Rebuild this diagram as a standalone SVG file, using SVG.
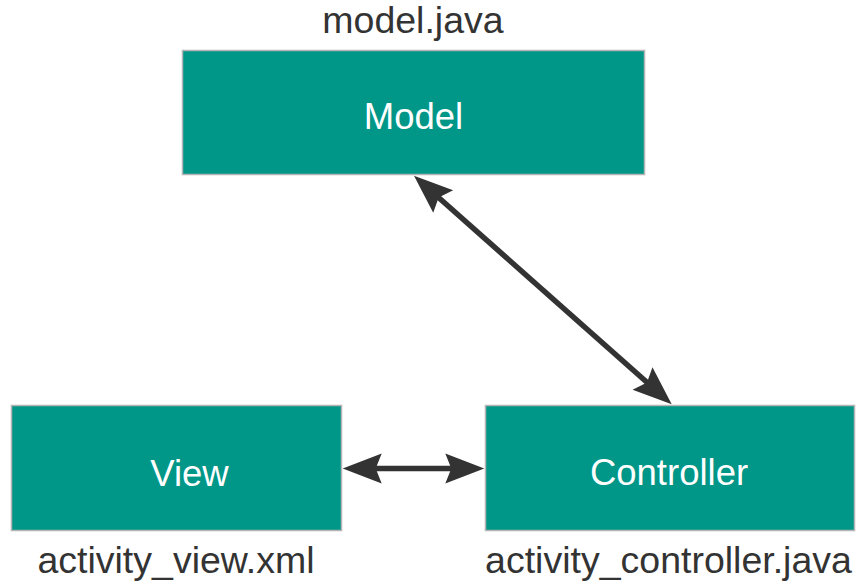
<svg xmlns="http://www.w3.org/2000/svg" width="856" height="583" viewBox="0 0 856 583">
<style>
  .box { fill: #009688; stroke: #b4b4b4; stroke-width: 1.5; }
  .inner { font-family: "Liberation Sans", Arial, sans-serif; font-size: 36.5px; fill: #ffffff; text-anchor: middle; }
  .outer { font-family: "Liberation Sans", Arial, sans-serif; font-size: 37.5px; fill: #333333; text-anchor: middle; }
  .conn { stroke: #333333; stroke-width: 5.5; fill: none; marker-start: url(#head); marker-end: url(#head); }
</style>
<defs>
  <marker id="head" markerUnits="userSpaceOnUse" viewBox="-44 -18 46 36" markerWidth="46" markerHeight="36" refX="-20" refY="0" orient="auto-start-reverse">
    <path d="M0,0 L-39,-15 L-33,0 L-39,15 Z" fill="#333333"/>
  </marker>
</defs>
<rect width="856" height="583" fill="#ffffff"/>
<g id="model">
  <rect class="box" x="182.5" y="50.5" width="462" height="124"/>
  <text class="inner" x="413.5" y="129">Model</text>
  <text class="outer" x="413" y="33">model.java</text>
</g>
<g id="view">
  <rect class="box" x="11.5" y="405.5" width="330" height="125"/>
  <text class="inner" x="189.5" y="486">View</text>
  <text class="outer" x="176" y="573">activity_view.xml</text>
</g>
<g id="controller">
  <rect class="box" x="485.5" y="405.5" width="369" height="125"/>
  <text class="inner" x="669" y="485">Controller</text>
  <text class="outer" x="668.5" y="573">activity_controller.java</text>
</g>
<g id="connectors">
  <line class="conn" x1="428.96" y1="188.97" x2="656.74" y2="391.03"/>
  <line class="conn" x1="362.7" y1="468.5" x2="464.3" y2="468.5"/>
</g>
</svg>
